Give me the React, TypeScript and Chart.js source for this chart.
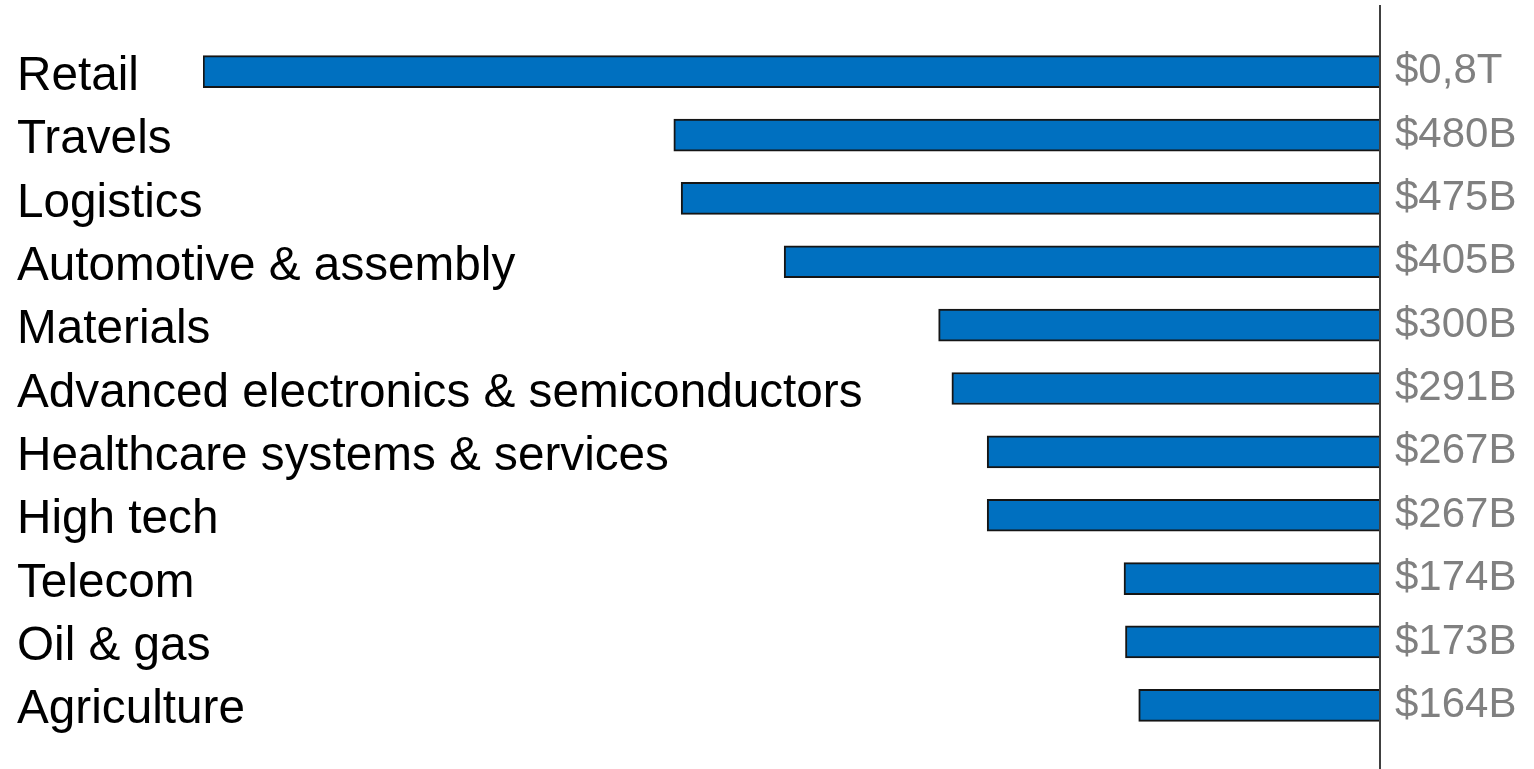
import React, { useEffect, useRef } from "react";
import { Chart, registerables } from "chart.js";

Chart.register(...registerables);

const categories = [
  "Retail",
  "Travels",
  "Logistics",
  "Automotive & assembly",
  "Materials",
  "Advanced electronics & semiconductors",
  "Healthcare systems & services",
  "High tech",
  "Telecom",
  "Oil & gas",
  "Agriculture",
];
const values = [800, 480, 475, 405, 300, 291, 267, 267, 174, 173, 164];
const valueLabels = ["$0,8T", "$480B", "$475B", "$405B", "$300B", "$291B", "$267B", "$267B", "$174B", "$173B", "$164B"];

const FONT = '"Liberation Sans", Arial, Helvetica, sans-serif';

const labelPlugin = {
  id: "labelPlugin",
  afterDatasetsDraw(chart: any) {
    const ctx = chart.ctx;
    const xs = chart.scales.x;
    const ys = chart.scales.y;
    const x0 = xs.getPixelForValue(0);
    ctx.save();
    ctx.strokeStyle = "#404040";
    ctx.lineWidth = 2;
    ctx.beginPath();
    ctx.moveTo(x0, 5);
    ctx.lineTo(x0, chart.height);
    ctx.stroke();
    ctx.textBaseline = "middle";
    categories.forEach((c, i) => {
      const y = ys.getPixelForValue(i);
      ctx.fillStyle = "#000000";
      ctx.font = `47.7px ${FONT}`;
      ctx.textAlign = "left";
      ctx.fillText(c, 17, y + 5);
      ctx.fillStyle = "#808080";
      ctx.font = `42px ${FONT}`;
      ctx.fillText(valueLabels[i], x0 + 15, y);
    });
    ctx.restore();
  },
};

export default function App() {
  const ref = useRef<HTMLCanvasElement>(null);
  useEffect(() => {
    if (!ref.current) return;
    const chart = new Chart(ref.current, {
      type: "bar",
      data: {
        labels: categories,
        datasets: [
          {
            data: values,
            backgroundColor: "#0070C0",
            borderColor: "#151515",
            borderWidth: 2,
            barThickness: 32,
          },
        ],
      },
      options: {
        indexAxis: "y",
        animation: false,
        responsive: true,
        maintainAspectRatio: false,
        layout: { padding: { left: 203, right: 154, top: 40, bottom: 32 } },
        plugins: { legend: { display: false }, tooltip: { enabled: false } },
        scales: {
          x: { display: false, reverse: true, min: 0, max: 800 },
          y: { display: false },
        },
      },
      plugins: [labelPlugin],
    } as any);
    return () => chart.destroy();
  }, []);
  return (
    <div style={{ position: "fixed", left: 0, top: 0, width: 1534, height: 769, background: "#fff" }}>
      <canvas ref={ref} />
    </div>
  );
}
